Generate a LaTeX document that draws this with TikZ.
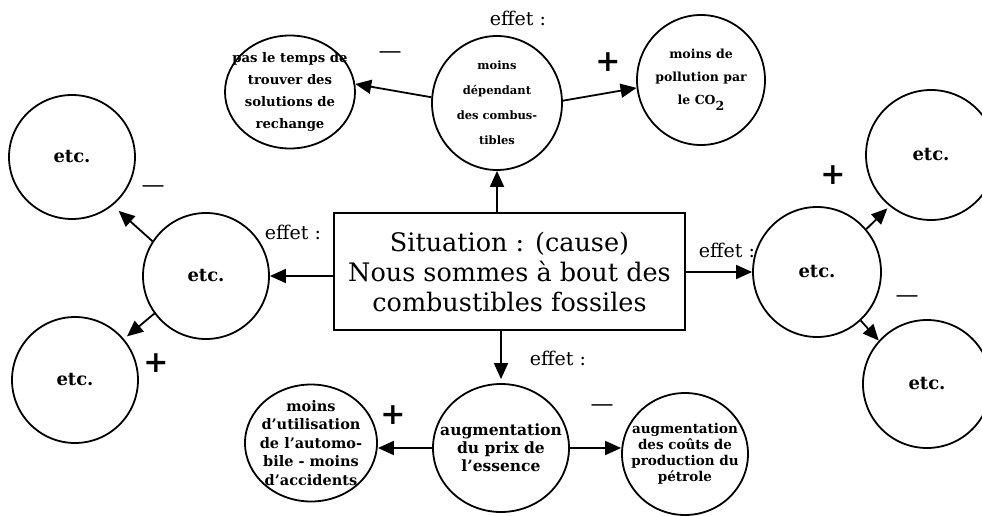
\documentclass[tikz,border=0pt]{standalone}
\usepackage{fontspec}
\setmainfont{DejaVu Serif}
\usetikzlibrary{shapes.geometric,arrows.meta}

\newcommand{\fsz}[2]{\fontsize{#1}{#2}\selectfont}

\tikzset{
  bubble/.style={draw,ellipse,line width=1.8pt,inner sep=0pt},
  bubtext/.style={align=center,inner sep=0pt},
  etctext/.style={inner sep=0pt,font=\bfseries\fsz{18}{18}},
  cause/.style={draw,rectangle,line width=1.8pt,align=center,inner sep=0pt,
    font=\fsz{25.5}{30}},
  effectlbl/.style={inner sep=0pt,font=\fsz{19}{19}},
  signlbl/.style={inner sep=0pt,font=\bfseries\fsz{30}{30}},
  dashlbl/.style={inner sep=0pt,font=\fsz{23}{23}},
  arr/.style={line width=1.8pt,-{Triangle[length=16pt,width=14pt]}},
}

\begin{document}
\begin{tikzpicture}[x=1pt,y=-1pt]
\useasboundingbox (0,0) rectangle (982,516);
\clip (0,0) rectangle (982,516);

% central cause box
\node[cause,minimum width=351pt,minimum height=117pt] (box) at (509.5,271.5)
  {Situation : (cause)\\ Nous sommes à bout des\\ combustibles fossiles};

% top branch
\node[bubble,minimum width=130pt,minimum height=134pt] (tm) at (497,103) {};
\node[bubble,minimum width=130pt,minimum height=113pt] (tl) at (290,92) {};
\node[bubble,minimum width=128pt,minimum height=130pt] (tr) at (701,80) {};
\node[bubtext,font=\bfseries\fsz{11.5}{25}] at (tm) {moins\\ dépendant\\ des combus-\\ tibles};
\node[bubtext,font=\bfseries\fsz{13.2}{22}] at (tl) {pas le temps de\\ trouver des\\ solutions de\\ rechange};
\node[bubtext,font=\bfseries\fsz{12.5}{23}] at (tr) {moins de\\ pollution par\\ le CO\raisebox{-6pt}{2}};

% bottom branch
\node[bubble,minimum width=136pt,minimum height=128pt] (bm) at (501,448) {};
\node[bubble,minimum width=132pt,minimum height=117pt] (bl) at (311,443) {};
\node[bubble,minimum width=126pt,minimum height=122pt] (br) at (685,454) {};
\node[bubtext,font=\bfseries\fsz{15.5}{18}] at (bm) {augmentation\\ du prix de\\ l'essence};
\node[bubtext,font=\bfseries\fsz{14.5}{18.5}] at (bl)
  {moins\\ d'utilisation\\ de l'automo-\\ bile - moins\\ d'accidents};
\node[bubtext,font=\bfseries\fsz{13.5}{16}] at (br)
  {augmentation\\ des coûts de\\ production du\\ pétrole};

% left branch
\node[bubble,minimum width=126pt,minimum height=126pt] (ml) at (206,276) {};
\node[bubble,minimum width=126pt,minimum height=124pt] (ul) at (72,157) {};
\node[bubble,minimum width=126pt,minimum height=126pt] (dl) at (75,380) {};
\node[etctext] at (ml) {etc.};
\node[etctext] at (ul) {etc.};
\node[etctext] at (dl) {etc.};

% right branch
\node[bubble,minimum width=128pt,minimum height=130pt] (mr) at (817,272) {};
\node[bubble,minimum width=130pt,minimum height=130pt] (ur) at (931,155) {};
\node[bubble,minimum width=128pt,minimum height=128pt] (dr) at (927,384) {};
\node[etctext] at (mr) {etc.};
\node[etctext] at (ur) {etc.};
\node[etctext] at (dr) {etc.};

% connectors from the cause
\draw[arr] (box.north -| tm.south) -- (tm.south);
\draw[arr,shorten >=4pt] (box.south -| bm.north) -- (bm.north);
\draw[arr] (box.west |- ml.east) -- (ml.east);
\draw[arr] (box.east |- mr.west) -- (mr.west);

% connectors between effects
\draw[arr] (tm.175) -- (tl.7);
\draw[arr] (tm.2) -- (tr.187);
\draw[arr] (bm.west) -- (bm.west -| bl.east);
\draw[arr] (bm.east) -- (bm.east -| br.west);
\draw[arr,shorten >=8pt] (ml.147) -- (ul.310);
\draw[arr,shorten >=4pt] (ml.216) -- (dl.40);
\draw[arr,shorten >=3pt] (mr.41) -- (ur.231);
\draw[arr] (mr.312) -- (dr.138);

% "effet :" labels
\node[effectlbl] (e1) at (518,18) {effet :};
\node[effectlbl] (e2) at (293,232) {effet :};
\node[effectlbl] (e3) at (727,250) {effet :};
\node[effectlbl] (e4) at (558,358) {effet :};

% signs
\node[dashlbl] (s1) at (390,55) {—};
\node[signlbl] (s2) at (608,62) {+};
\node[dashlbl] (s3) at (153,189) {—};
\node[signlbl] (s4) at (156,363) {+};
\node[signlbl] (s5) at (833,175) {+};
\node[dashlbl] (s6) at (907,299) {—};
\node[signlbl] (s7) at (393,415) {+};
\node[dashlbl] (s8) at (602,408) {—};
\end{tikzpicture}
\end{document}
